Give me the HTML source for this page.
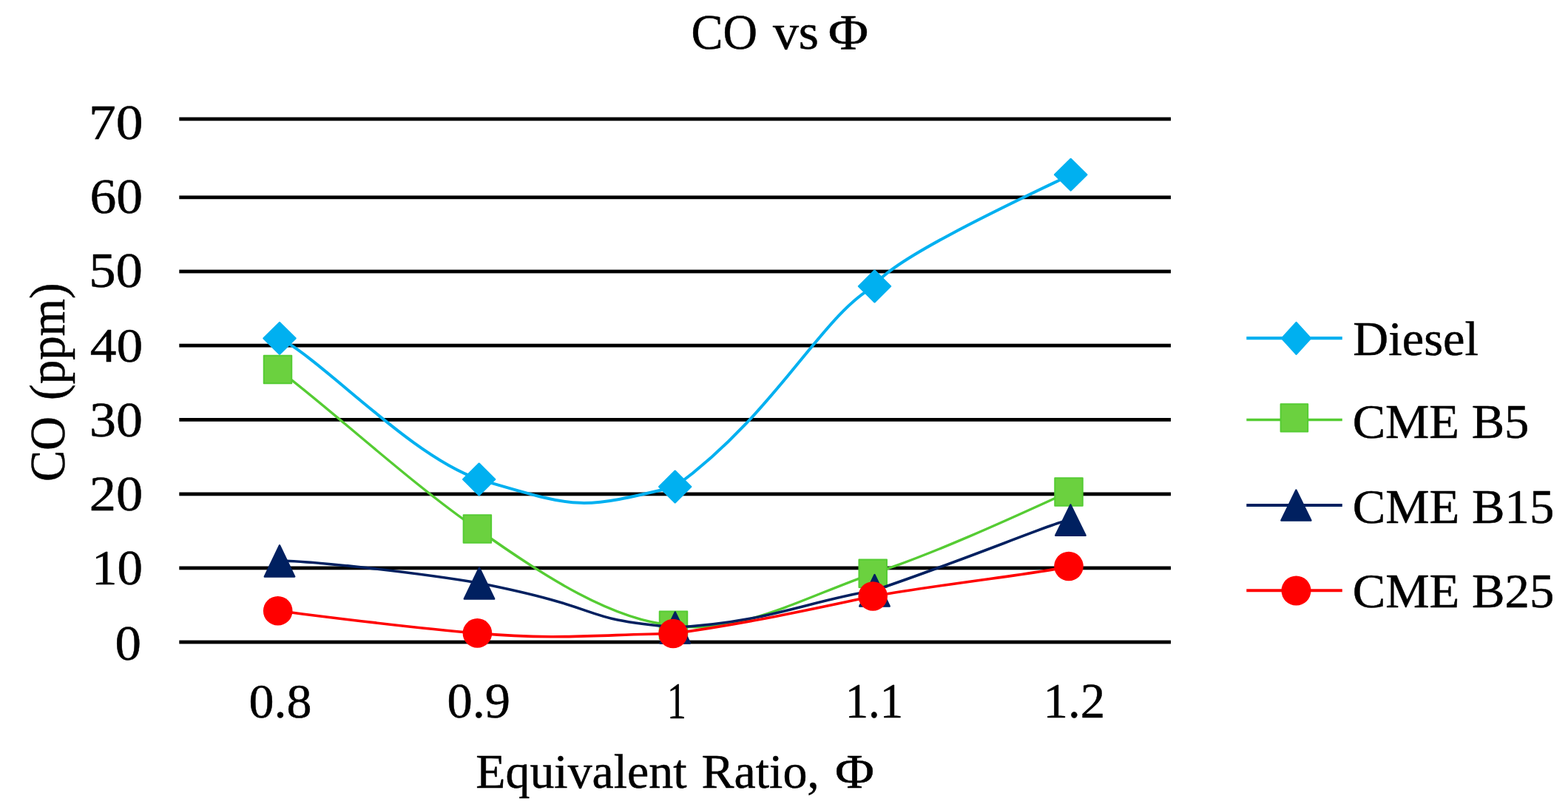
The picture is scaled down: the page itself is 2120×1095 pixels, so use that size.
<!DOCTYPE html><html><head><meta charset="utf-8"><title>CO vs Φ</title><style>html,body{margin:0;padding:0;background:#fff;width:2120px;height:1095px;overflow:hidden}svg{display:block}text{font-family:'Liberation Serif','Times New Roman',serif;fill:#000;stroke:#000;stroke-width:0.5px;stroke-linejoin:round}</style></head><body>
<svg width="2120" height="1095" viewBox="0 0 2120 1095">
<rect width="2120" height="1095" fill="#fff"/>
<text transform="translate(934.52,65.90) scale(0.9503,1)" font-size="67.80">CO</text>
<text transform="translate(1044.90,65.90) scale(1.0316,1)" font-size="67.80">vs</text>
<text transform="translate(1119.77,65.90) scale(1.0985,1)" font-size="67.80">Φ</text>
<g fill="#000">
<rect x="242.30" y="158.50" width="1340.70" height="4.80"/>
<rect x="242.30" y="264.40" width="1340.70" height="4.80"/>
<rect x="242.30" y="364.60" width="1340.70" height="4.80"/>
<rect x="242.30" y="464.70" width="1340.70" height="4.80"/>
<rect x="242.30" y="565.00" width="1340.70" height="4.80"/>
<rect x="242.30" y="665.50" width="1340.70" height="4.80"/>
<rect x="242.30" y="765.50" width="1340.70" height="4.80"/>
<rect x="242.30" y="865.60" width="1340.70" height="4.80"/>
</g>
<text transform="translate(119.91,187.83) scale(1.0972,1)" font-size="67.11">70</text>
<text transform="translate(121.38,288.33) scale(1.0690,1)" font-size="66.96">60</text>
<text transform="translate(120.23,388.33) scale(1.0868,1)" font-size="66.96">50</text>
<text transform="translate(121.77,489.14) scale(1.0779,1)" font-size="66.22">40</text>
<text transform="translate(121.00,589.93) scale(1.0749,1)" font-size="66.96">30</text>
<text transform="translate(120.74,690.13) scale(1.0821,1)" font-size="66.96">20</text>
<text transform="translate(124.09,790.23) scale(1.0299,1)" font-size="66.96">10</text>
<text transform="translate(155.56,892.13) scale(1.0526,1)" font-size="67.41">0</text>
<text transform="translate(336.48,969.61) scale(1.0314,1)" font-size="65.88">0.8</text>
<text transform="translate(604.46,969.99) scale(1.0177,1)" font-size="67.35">0.9</text>
<text transform="translate(901.95,970.80) scale(0.7461,1)" font-size="69.31">1</text>
<text transform="translate(1142.65,970.08) scale(0.9257,1)" font-size="67.76">1.1</text>
<text transform="translate(1410.58,969.79) scale(0.9943,1)" font-size="67.26">1.2</text>
<text transform="translate(643.33,1064.50) scale(0.9973,1)" font-size="66.00">Equivalent</text>
<text transform="translate(948.62,1064.50) scale(0.9984,1)" font-size="66.00">Ratio,</text>
<text transform="translate(1129.02,1064.50) scale(1.0991,1)" font-size="66.00">Φ</text>
<text transform="translate(86.90,650.93) rotate(-90) scale(0.9375,1)" font-size="67.50">CO</text>
<text transform="translate(86.90,540.92) rotate(-90) scale(0.9619,1)" font-size="67.50">(ppm)</text>
<path d="M378.0,457.3 C438.8,488.8 554.6,616.1 647.7,648.0 C783.1,687.5 780.6,689.7 912.7,658.0 C1048.6,559.6 1111.9,424.6 1182.5,387.0 C1200.4,350.9 1402.9,258.1 1447.7,236.2" fill="none" stroke="#00B0F0" stroke-width="4.00" stroke-linejoin="round"/>
<g fill="#00B0F0" stroke="#00B0F0" stroke-width="2.40" stroke-linejoin="round"><polygon points="378.00,436.00 399.55,457.30 378.00,478.60 356.45,457.30"/><polygon points="647.70,626.70 669.25,648.00 647.70,669.30 626.15,648.00"/><polygon points="912.70,636.70 934.25,658.00 912.70,679.30 891.15,658.00"/><polygon points="1182.50,365.70 1204.05,387.00 1182.50,408.30 1160.95,387.00"/><polygon points="1447.70,214.90 1469.25,236.20 1447.70,257.50 1426.15,236.20"/></g>
<path d="M375.5,499.5 C428.0,536.5 563.5,660.6 645.4,715.0 C736.4,780.1 829.7,839.1 910.5,845.3 C994.5,860.7 1090.0,806.3 1180.2,775.3 C1268.7,747.2 1403.2,683.9 1445.0,665.1" fill="none" stroke="#55CC33" stroke-width="3.40" stroke-linejoin="round"/>
<g fill="#6BD13F" stroke="#55CC33" stroke-width="2" stroke-linejoin="round"><rect x="356.75" y="480.75" width="37.50" height="37.50"/><rect x="626.65" y="696.25" width="37.50" height="37.50"/><rect x="891.75" y="826.55" width="37.50" height="37.50"/><rect x="1161.45" y="756.55" width="37.50" height="37.50"/><rect x="1426.25" y="646.35" width="37.50" height="37.50"/></g>
<path d="M378.0,758.0 C433.4,759.2 569.6,775.0 648.0,788.2 C834.3,825.4 772.5,835.7 912.8,848.1 C1035.7,841.9 1089.9,813.3 1182.5,798.0 C1300.7,758.6 1441.5,699.6 1447.4,702.8" fill="none" stroke="#002060" stroke-width="3.60" stroke-linejoin="round"/>
<g fill="#002060" stroke="#002060" stroke-width="2.40" stroke-linejoin="round"><polygon points="378.00,737.22 398.22,779.50 357.78,779.50"/><polygon points="648.00,767.62 668.22,809.60 627.78,809.60"/><polygon points="912.80,827.42 933.02,869.50 892.58,869.50"/><polygon points="1182.50,777.12 1202.72,819.60 1162.28,819.60"/><polygon points="1447.40,682.42 1467.62,723.80 1427.18,723.80"/></g>
<path d="M375.7,825.8 C431.3,832.6 556.5,849.2 645.4,855.9 C751.7,866.0 821.4,857.2 910.1,856.5 C1011.4,842.7 1106.1,821.9 1180.2,806.0 C1284.6,787.8 1424.8,772.8 1445.0,765.5" fill="none" stroke="#FF0000" stroke-width="3.60" stroke-linejoin="round"/>
<g fill="#FF0000"><circle cx="375.70" cy="825.80" r="19.80"/><circle cx="645.40" cy="855.90" r="19.80"/><circle cx="910.10" cy="856.50" r="19.80"/><circle cx="1180.20" cy="806.00" r="19.80"/><circle cx="1445.00" cy="765.50" r="19.80"/></g>
<line x1="1685.30" y1="457.20" x2="1814.80" y2="457.20" stroke="#00B0F0" stroke-width="4.20" stroke-linecap="butt"/>
<g fill="#00B0F0" stroke="#00B0F0" stroke-width="2.40" stroke-linejoin="round"><polygon points="1752.60,436.00 1771.95,457.40 1752.60,478.80 1733.25,457.40"/></g>
<text transform="translate(1829.31,480.10) scale(0.9983,1)" font-size="66.50">Diesel</text>
<line x1="1685.30" y1="567.60" x2="1814.80" y2="567.60" stroke="#55CC33" stroke-width="3.50" stroke-linecap="butt"/>
<g fill="#6BD13F" stroke="#55CC33" stroke-width="2" stroke-linejoin="round"><rect x="1731.60" y="546.30" width="36.60" height="37.30"/></g>
<text transform="translate(1828.64,592.30) scale(1.0018,1)" font-size="66.50">CME B5</text>
<line x1="1685.30" y1="683.00" x2="1814.80" y2="683.00" stroke="#002060" stroke-width="4.00" stroke-linecap="butt"/>
<g fill="#002060" stroke="#002060" stroke-width="2.40" stroke-linejoin="round"><polygon points="1752.40,662.52 1772.42,703.60 1732.38,703.60"/></g>
<text transform="translate(1828.63,706.60) scale(1.0044,1)" font-size="66.50">CME B15</text>
<line x1="1685.30" y1="798.30" x2="1814.80" y2="798.30" stroke="#FF0000" stroke-width="4.00" stroke-linecap="butt"/>
<g fill="#FF0000"><circle cx="1752.50" cy="798.50" r="20.00"/></g>
<text transform="translate(1828.63,820.60) scale(1.0044,1)" font-size="66.50">CME B25</text>
</svg></body></html>
